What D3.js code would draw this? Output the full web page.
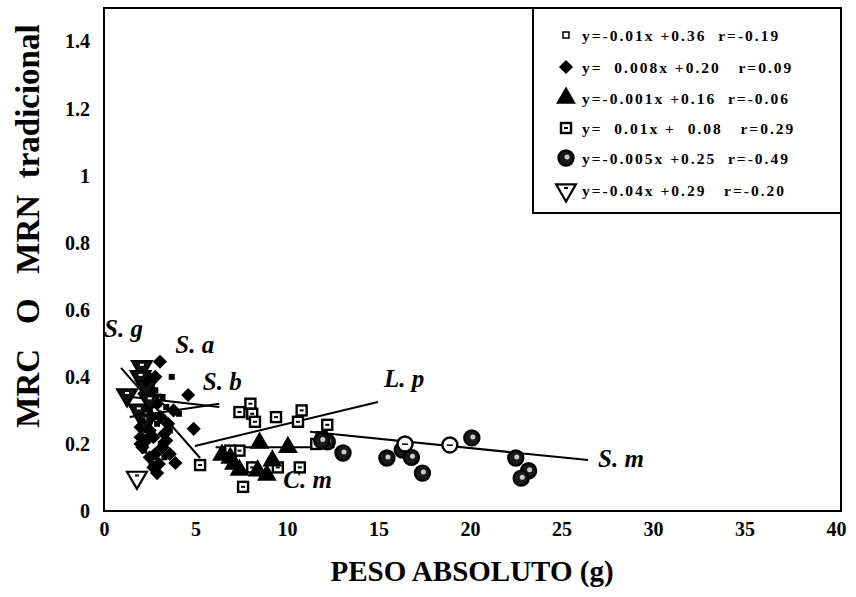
<!DOCTYPE html>
<html>
<head>
<meta charset="utf-8">
<script src="https://cdn.jsdelivr.net/npm/d3@7"></script>
<style>
  body { margin: 0; background: #fff; }
  svg { display: block; }
  text { font-family: "Liberation Serif", "Times New Roman", serif; font-weight: bold; fill: #000; }
</style>
</head>
<body>
<svg id="chart"></svg>
<script>
// ---- data ----
var xTicks = [0, 5, 10, 15, 20, 25, 30, 35, 40];
var yTicks = [0, 0.2, 0.4, 0.6, 0.8, 1, 1.2, 1.4];

// S. b  (small squares)
var sbPoints = [[3.7, 0.40], [2.3, 0.38], [2.8, 0.36], [3.2, 0.34], [2.5, 0.30], [3.4, 0.31],
  [2.1, 0.27], [2.9, 0.26], [3.6, 0.24], [2.4, 0.22], [3.1, 0.20], [2.2, 0.18], [3.3, 0.16],
  [4.1, 0.29], [2.6, 0.14]];
// S. a  (diamonds)
var saPoints = [[3.06, 0.445], [4.6, 0.346], [4.9, 0.245], [3.9, 0.143], [2.9, 0.113], [2.0, 0.25],
  [2.3, 0.21], [2.6, 0.28], [3.3, 0.23], [2.1, 0.19], [2.8, 0.17], [3.5, 0.26], [2.4, 0.31],
  [3.0, 0.14], [2.7, 0.22], [3.8, 0.30], [2.2, 0.35], [2.5, 0.16], [3.2, 0.19], [2.0, 0.22],
  [2.6, 0.36], [2.9, 0.32], [3.1, 0.28], [2.3, 0.26], [2.5, 0.24], [2.0, 0.20], [3.4, 0.21],
  [2.7, 0.13], [3.6, 0.17], [2.4, 0.40], [2.8, 0.40]];
// C. m  (triangles)
var cmPoints = [[8.5, 0.203], [10.05, 0.19], [6.45, 0.167], [6.9, 0.158], [9.2, 0.15], [8.9, 0.107],
  [7.4, 0.122], [8.4, 0.12], [7.1, 0.14]];
// L. p  (patterned squares)
var lpPoints = [[8.0, 0.32], [7.4, 0.295], [8.1, 0.29], [8.25, 0.266], [9.4, 0.28], [10.8, 0.30],
  [10.6, 0.266], [5.25, 0.137], [7.4, 0.18], [7.6, 0.072], [8.1, 0.13], [12.2, 0.257],
  [11.9, 0.22], [11.6, 0.20], [10.7, 0.13], [6.9, 0.18], [9.5, 0.13]];
// S. m  (circles)
var smPoints = [[13.06, 0.173], [15.46, 0.158], [16.3, 0.182], [16.8, 0.16], [17.4, 0.113],
  [20.1, 0.218], [22.5, 0.158], [23.2, 0.12], [22.8, 0.098], [12.2, 0.206], [11.9, 0.21]];
var smOpen = [[16.45, 0.20], [18.9, 0.197]];
// S. g  (inverted triangles)
var sgPoints = [[1.26, 0.346], [2.07, 0.43], [2.0, 0.40], [2.3, 0.37], [1.9, 0.30],
  [2.5, 0.33], [2.2, 0.27]];
var sgOpen = [[1.8, 0.10]];

// regression lines as drawn (start, end)
var lineSg = [[0.93, 0.427], [5.25, 0.158]];
var lineSb = [[1.5, 0.34], [6.3, 0.31]];
var lineSa = [[1.4, 0.28], [6.3, 0.32]];
var lineLp = [[4.97, 0.194], [14.97, 0.325]];
var lineCm = [[6.1, 0.19], [12.6, 0.19]];
var lineSm = [[11.26, 0.236], [26.45, 0.152]];

var speciesLabels = [["S. g", 0.0, 0.52], ["S. a", 3.9, 0.47], ["S. b", 5.4, 0.36],
  ["L. p", 15.3, 0.37], ["C. m", 9.8, 0.07], ["S. m", 27, 0.13]];

var legendText = [
  "y=-0.01x +0.36  r=-0.19",
  "y=  0.008x +0.20   r=0.09",
  "y=-0.001x +0.16  r=-0.06",
  "y=  0.01x +  0.08   r=0.29",
  "y=-0.005x +0.25  r=-0.49",
  "y=-0.04x +0.29   r=-0.20"
];

// ---- layout ----
var W = 856, H = 597;
var x = d3.scaleLinear().domain([0, 40]).range([104, 836]);
var y = d3.scaleLinear().domain([0, 1.5]).range([511, 8]);

var svg = d3.select("#chart").attr("width", W).attr("height", H);

// frame
svg.append("rect")
  .attr("x", 104).attr("y", 8)
  .attr("width", 841 - 104).attr("height", 511 - 8)
  .attr("fill", "none").attr("stroke", "#000").attr("stroke-width", 2);

// axes (labels only)
var xAxis = d3.axisBottom(x).tickValues(xTicks).tickSize(0).tickPadding(11)
  .tickFormat(d3.format("d"));
svg.append("g").attr("class", "x axis")
  .attr("transform", "translate(0,511)")
  .call(xAxis)
  .call(function (g) {
    g.select(".domain").remove();
    g.selectAll("text").style("font-size", "20px");
  });

var yAxis = d3.axisLeft(y).tickValues(yTicks).tickSize(0).tickPadding(14)
  .tickFormat(function (d) { return d === 0 || d === 1 ? d : d3.format(".1f")(d); });
svg.append("g").attr("class", "y axis")
  .attr("transform", "translate(104,0)")
  .call(yAxis)
  .call(function (g) {
    g.select(".domain").remove();
    g.selectAll("text").style("font-size", "20px");
  });

// axis titles
svg.append("text")
  .attr("x", 472).attr("y", 581)
  .attr("text-anchor", "middle")
  .style("font-size", "29px")
  .text("PESO ABSOLUTO (g)");

svg.append("text")
  .attr("transform", "translate(39,226) rotate(-90)")
  .attr("text-anchor", "middle")
  .attr("xml:space", "preserve")
  .style("font-size", "33px")
  .style("white-space", "pre")
  .text("MRC   O   MRN  tradicional");

// regression lines
var lineGen = d3.line().x(function (d) { return x(d[0]); }).y(function (d) { return y(d[1]); });
[lineSg, lineSb, lineSa, lineLp, lineCm, lineSm].forEach(function (l) {
  svg.append("path").attr("d", lineGen(l))
    .attr("fill", "none").attr("stroke", "#000").attr("stroke-width", 2);
});

// marker painters
var sym = {
  diamond: d3.symbol().type(d3.symbolSquare).size(100),
  tri: d3.symbol().type(d3.symbolTriangle).size(170),
  sq: d3.symbol().type(d3.symbolSquare).size(36)
};

function drawSmallSquare(g, px, py) {
  g.append("path").attr("d", sym.sq()).attr("transform", "translate(" + px + "," + py + ")")
    .attr("fill", "#000");
}
function drawDiamond(g, px, py) {
  g.append("path").attr("d", sym.diamond())
    .attr("transform", "translate(" + px + "," + py + ") rotate(45)")
    .attr("fill", "#000");
}
function drawTriangle(g, px, py) {
  g.append("path").attr("d", sym.tri()).attr("transform", "translate(" + px + "," + py + ")")
    .attr("fill", "#000");
}
function drawPatSquare(g, px, py) {
  g.append("rect").attr("x", px - 5).attr("y", py - 5).attr("width", 10).attr("height", 10)
    .attr("fill", "#fff").attr("stroke", "#000").attr("stroke-width", 2.4);
  g.append("rect").attr("x", px - 2).attr("y", py - 1).attr("width", 4).attr("height", 2)
    .attr("fill", "#000");
}
function drawCircle(g, px, py, open) {
  g.append("circle").attr("cx", px).attr("cy", py).attr("r", 7.5)
    .attr("fill", open ? "#fff" : "#1a1a1a").attr("stroke", "#000").attr("stroke-width", 2.4);
  if (!open) {
    g.append("circle").attr("cx", px + 1).attr("cy", py - 1).attr("r", 2.5).attr("fill", "#ccc");
  } else {
    g.append("rect").attr("x", px - 3).attr("y", py - 0.5).attr("width", 6).attr("height", 1.5).attr("fill", "#000");
  }
}
function drawInvTri(g, px, py, open) {
  g.append("path").attr("d", sym.tri())
    .attr("transform", "translate(" + px + "," + py + ") rotate(180)")
    .attr("fill", open ? "#fff" : "#111").attr("stroke", "#000").attr("stroke-width", 2.2);
  g.append("rect").attr("x", px - 2).attr("y", py - 3).attr("width", 4).attr("height", 2)
    .attr("fill", open ? "#000" : "#fff");
}

var marks = svg.append("g").attr("class", "marks");
lpPoints.forEach(function (d) { drawPatSquare(marks, x(d[0]), y(d[1])); });
cmPoints.forEach(function (d) { drawTriangle(marks, x(d[0]), y(d[1])); });
smPoints.forEach(function (d) { drawCircle(marks, x(d[0]), y(d[1]), false); });
smOpen.forEach(function (d) { drawCircle(marks, x(d[0]), y(d[1]), true); });
saPoints.forEach(function (d) { drawDiamond(marks, x(d[0]), y(d[1])); });
sgPoints.forEach(function (d) { drawInvTri(marks, x(d[0]), y(d[1]), false); });
sgOpen.forEach(function (d) { drawInvTri(marks, x(d[0]), y(d[1]), true); });
sbPoints.forEach(function (d) { drawSmallSquare(marks, x(d[0]), y(d[1])); });

// species labels
svg.selectAll(".sp")
  .data(speciesLabels)
  .enter()
  .append("text")
  .attr("class", "sp")
  .attr("x", function (d) { return x(d[1]); })
  .attr("y", function (d) { return y(d[2]); })
  .style("font-size", "25px")
  .style("font-style", "italic")
  .text(function (d) { return d[0]; });

// legend
var lg = svg.append("g").attr("class", "legend");
lg.append("rect").attr("x", 533).attr("y", 8).attr("width", 841 - 533).attr("height", 213 - 8)
  .attr("fill", "#fff").attr("stroke", "#000").attr("stroke-width", 2);

var rowY = [35, 67, 98, 128, 158, 190];
var painters = [
  function (px, py) { lg.append("rect").attr("x", px - 3).attr("y", py - 3).attr("width", 6).attr("height", 6)
      .attr("fill", "#fff").attr("stroke", "#000").attr("stroke-width", 1.5); },
  function (px, py) { drawDiamond(lg, px, py); },
  function (px, py) { drawTriangle(lg, px, py); },
  function (px, py) { drawPatSquare(lg, px, py); },
  function (px, py) { drawCircle(lg, px, py, false); },
  function (px, py) { drawInvTri(lg, px, py, true); }
];
legendText.forEach(function (t, i) {
  painters[i](566, rowY[i]);
  lg.append("text")
    .attr("x", 582).attr("y", rowY[i] + 6)
    .attr("xml:space", "preserve")
    .style("white-space", "pre")
    .style("font-size", "15.5px")
    .style("letter-spacing", "2px")
    .text(t);
});
</script>
</body>
</html>
